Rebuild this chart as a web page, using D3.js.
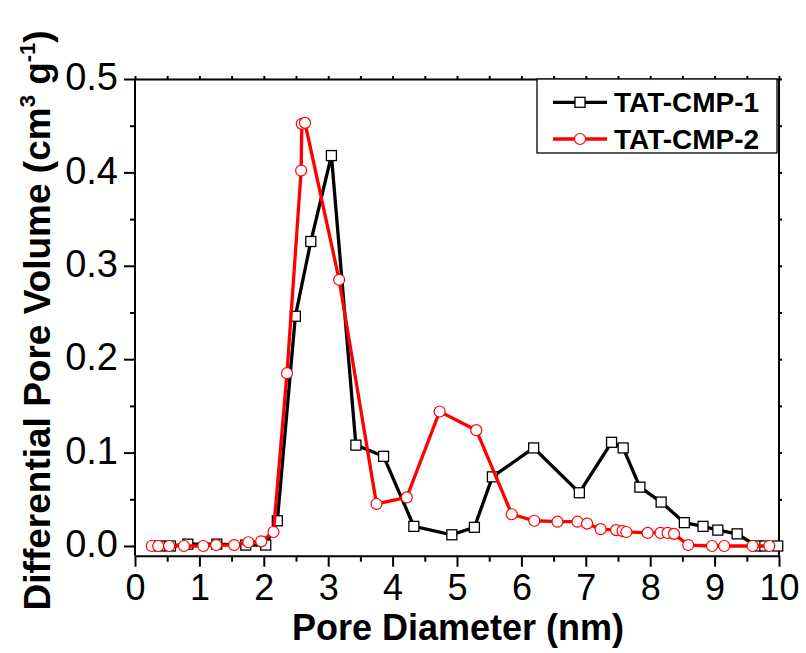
<!DOCTYPE html>
<html>
<head>
<meta charset="utf-8">
<script src="https://cdn.jsdelivr.net/npm/d3@7"></script>
<style>
  html, body { margin: 0; padding: 0; background: #fff; }
  svg { display: block; }
  text { font-family: "Liberation Sans", Arial, Helvetica, sans-serif; }
</style>
</head>
<body>
<svg id="chart" width="806" height="653"></svg>
<script>
// ---------------- data ----------------
const seriesNames = ["TAT-CMP-1", "TAT-CMP-2"];
const seriesColors = ["#000000", "#ff0000"];

const cmp1X = [0.38, 0.55, 0.82, 1.27, 1.72, 2.03, 2.21, 2.49, 2.73, 3.05, 3.43, 3.86, 4.33, 4.92, 5.27, 5.55, 6.19, 6.90, 7.40, 7.58, 7.84, 8.17, 8.53, 8.82, 9.05, 9.35, 9.65, 9.78, 9.98];
const cmp1Y = [0.000, 0.000, 0.002, 0.002, 0.001, 0.001, 0.027, 0.246, 0.326, 0.418, 0.108, 0.096, 0.021, 0.012, 0.020, 0.074, 0.105, 0.057, 0.111, 0.105, 0.063, 0.047, 0.025, 0.021, 0.017, 0.013, 0.000, 0.000, 0.000];

const cmp2X = [0.26, 0.36, 0.53, 0.76, 1.06, 1.26, 1.54, 1.76, 1.96, 2.15, 2.36, 2.58, 2.59, 2.64, 3.17, 3.75, 4.22, 4.73, 5.30, 5.85, 6.20, 6.56, 6.87, 7.02, 7.23, 7.47, 7.57, 7.63, 7.96, 8.16, 8.27, 8.37, 8.59, 8.96, 9.15, 9.59, 9.85];
const cmp2Y = [0.000, 0.000, 0.000, 0.000, 0.000, 0.001, 0.001, 0.004, 0.005, 0.015, 0.185, 0.402, 0.452, 0.453, 0.285, 0.045, 0.052, 0.144, 0.124, 0.034, 0.027, 0.026, 0.026, 0.024, 0.018, 0.017, 0.016, 0.015, 0.014, 0.014, 0.014, 0.013, 0.001, 0.000, 0.000, 0.000, 0.000];

const xTicks = [0, 1, 2, 3, 4, 5, 6, 7, 8, 9, 10];
const xMinorTicks = [0.5, 1.5, 2.5, 3.5, 4.5, 5.5, 6.5, 7.5, 8.5, 9.5];
const yTicks = [0.0, 0.1, 0.2, 0.3, 0.4, 0.5];
const yMinorTicks = [0.05, 0.15, 0.25, 0.35, 0.45];

const xTitle = "Pore Diameter (nm)";

// ---------------- layout ----------------
const L = 135, R = 779, T = 79, B = 555.7;
const svg = d3.select("#chart");
svg.append("rect").attr("width", 806).attr("height", 653).attr("fill", "#fff");

const x = d3.scaleLinear().domain([0, 10]).range([L, R]);
const y = d3.scaleLinear().domain([-0.0104, 0.5]).range([B, T]);

function styleAxis(g) {
  g.selectAll("path.domain").attr("stroke", "#000").attr("stroke-width", 2);
  g.selectAll(".tick line").attr("stroke", "#000").attr("stroke-width", 2);
}

// bottom axis major
const gxb = svg.append("g").attr("transform", `translate(0,${B})`)
  .call(d3.axisBottom(x).tickValues(xTicks).tickSize(11).tickSizeOuter(0).tickPadding(8).tickFormat(d3.format("d")));
styleAxis(gxb);
gxb.selectAll(".tick text").attr("font-size", 36).attr("fill", "#000")
   .attr("font-family", "'Liberation Sans', Arial, sans-serif");
// bottom minor
const gxbm = svg.append("g").attr("transform", `translate(0,${B})`)
  .call(d3.axisBottom(x).tickValues(xMinorTicks).tickSize(6).tickFormat(""));
gxbm.select("path.domain").remove(); styleAxis(gxbm);

// top axis
const gxt = svg.append("g").attr("transform", `translate(0,${T})`)
  .call(d3.axisTop(x).tickValues(xTicks.concat(xMinorTicks)).tickSize(3).tickSizeOuter(0).tickFormat(""));
styleAxis(gxt);

// left axis
const gyl = svg.append("g").attr("transform", `translate(${L},0)`)
  .call(d3.axisLeft(y).tickValues(yTicks).tickSize(11).tickSizeOuter(0).tickPadding(6).tickFormat(d3.format(".1f")));
styleAxis(gyl);
gyl.select("path.domain").attr("d", `M0,${B}V${T}`);
gyl.selectAll(".tick text").attr("font-size", 38).attr("fill", "#000").attr("dy", "0.28em")
   .attr("font-family", "'Liberation Sans', Arial, sans-serif");
const gylm = svg.append("g").attr("transform", `translate(${L},0)`)
  .call(d3.axisLeft(y).tickValues(yMinorTicks).tickSize(5).tickFormat(""));
gylm.select("path.domain").remove(); styleAxis(gylm);

// right axis
const gyr = svg.append("g").attr("transform", `translate(${R},0)`)
  .call(d3.axisRight(y).tickValues(yTicks.concat(yMinorTicks)).tickSize(3).tickSizeOuter(0).tickFormat(""));
styleAxis(gyr);
gyr.select("path.domain").attr("d", `M0,${B}V${T}`);

// ---------------- series ----------------
const line = d3.line().x(d => x(d[0])).y(d => y(d[1]));
const s1 = cmp1X.map((v, i) => [v, cmp1Y[i]]);
const s2 = cmp2X.map((v, i) => [v, cmp2Y[i]]);

// series 1 (squares)
svg.append("path").datum(s1).attr("d", line).attr("fill", "none")
  .attr("stroke", seriesColors[0]).attr("stroke-width", 3.3).attr("stroke-linejoin", "miter");
svg.append("g").selectAll("rect").data(s1).join("rect")
  .attr("x", d => x(d[0]) - 5).attr("y", d => y(d[1]) - 5)
  .attr("width", 10).attr("height", 10)
  .attr("fill", "#fff").attr("stroke", "#000").attr("stroke-width", 1.3);

// series 2 (circles)
svg.append("path").datum(s2).attr("d", line).attr("fill", "none")
  .attr("stroke", seriesColors[1]).attr("stroke-width", 3.3).attr("stroke-linejoin", "miter");
svg.append("g").selectAll("circle").data(s2).join("circle")
  .attr("cx", d => x(d[0])).attr("cy", d => y(d[1])).attr("r", 5.5)
  .attr("fill", "#fff").attr("stroke", seriesColors[1]).attr("stroke-width", 1.2);

// ---------------- titles ----------------
svg.append("text").attr("x", (L + R) / 2 + 1).attr("y", 640)
  .attr("text-anchor", "middle").attr("font-size", 36).attr("font-weight", "bold")
  .text(xTitle);

const yt = svg.append("text")
  .attr("transform", `translate(50,${(T + B) / 2 + 3}) rotate(-90)`)
  .attr("text-anchor", "middle").attr("font-size", 37).attr("font-weight", "bold");
yt.append("tspan").text("Differential Pore Volume (cm");
yt.append("tspan").attr("font-size", 22).attr("dy", -15).text("3");
yt.append("tspan").attr("font-size", 37).attr("dy", 15).text(" g");
yt.append("tspan").attr("font-size", 22).attr("dy", -15).text("-1");
yt.append("tspan").attr("font-size", 37).attr("dy", 15).text(")");

// ---------------- legend ----------------
const lg = svg.append("g");
lg.append("rect").attr("x", 537).attr("y", 79).attr("width", 240).attr("height", 74)
  .attr("fill", "#fff").attr("stroke", "#000").attr("stroke-width", 1.3);
const rowsY = [102.3, 139];
seriesNames.forEach((name, i) => {
  const cy = rowsY[i];
  lg.append("line").attr("x1", 553).attr("x2", 607).attr("y1", cy).attr("y2", cy)
    .attr("stroke", seriesColors[i]).attr("stroke-width", 3.3);
  if (i === 0) {
    lg.append("rect").attr("x", 575).attr("y", cy - 5).attr("width", 10).attr("height", 10)
      .attr("fill", "#fff").attr("stroke", "#000").attr("stroke-width", 1.3);
  } else {
    lg.append("circle").attr("cx", 580).attr("cy", cy).attr("r", 5.5)
      .attr("fill", "#fff").attr("stroke", seriesColors[1]).attr("stroke-width", 1.2);
  }
  lg.append("text").attr("x", 614).attr("y", cy + 10).attr("font-size", 28)
    .attr("font-weight", "bold").attr("fill", "#000").text(name);
});
</script>
</body>
</html>
